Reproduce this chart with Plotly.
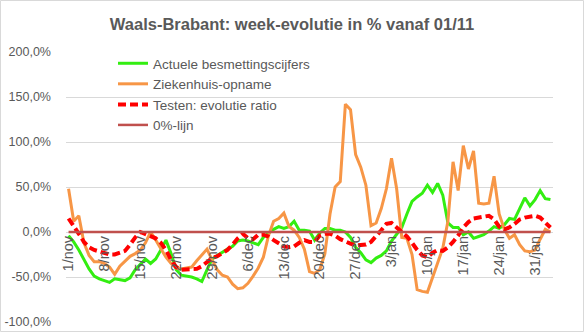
import pandas as pd
import plotly.graph_objects as go

# Daily categories, 1 november 2020 up to 3 februari 2021
dates = pd.date_range("2020-11-01", "2021-02-03", freq="D")

# Week-on-week evolution in %, one value per day
besmettingen = [
    -4, -11, -20, -31, -41, -49, -52, -54, -56, -52,
    -53, -54, -51, -42, -36, -30, -35, -30, -20, -9,
    -24, -42, -48, -49, -50, -52, -55, -42, -30, -26,
    -22, -19, -16, -10, -9, -10, -12, -14, -6, -1,
    3, 6, 4, 6, 12, 2, 2, 1, -9, -1,
    4, 4, 2, 2, 0, -6, -17, -23, -31, -34,
    -29, -26, -21, -10, -2, 5, 20, 34, 39, 43,
    52, 44, 54, 41, 10, 5, 5, -3, 0, -7,
    -5, -3, 1, 6, 4, 8, 15, 14, 26, 38,
    29, 36, 46, 37, 36,
]

ziekenhuis = [
    48, 12, 18, -12, -26, -33, -33, -35, -39, -47,
    -38, -33, -27, -24, -20, -12, 0, -9, -19, -28,
    -35, -40, -41, -40, -39, -32, -25, -19, -31, -42,
    -48, -50, -58, -63, -62, -57, -49, -40, -28, -4,
    12, 15, 21, 6, 2, -6, -19, -44, -46, -42,
    -24, 20, 50, 56, 142, 136, 86, 72, 52, 7,
    10, 26, 48, 82, 48, -6, -7, -25, -64, -66,
    -67, -50, -35, -18, 12, 78, 46, 96, 70, 90,
    32, 31, 32, 62, 20, 3, -7, -3, -14, -21,
    -22, -20, -8, 3, 0,
]

testen = [
    15, 7, -2, -11, -17, -20, -22, -24, -25, -25,
    -23, -21, -14, -6, 0, -2, -4, -7, -12, -20,
    -31, -39, -42, -42, -42, -41, -38, -33, -29, -27,
    -23, -20, -14, -7, -2, -7, -8, -3, -3, -5,
    -9, -12, -16, -17, -16, -12, -9, -11, -11, -4,
    -2, -2, -4, -8, -11, -13, -15, -15, -14, -11,
    -5, 2, 9, 10, 5, 0, -5, -12, -20, -26,
    -28, -23, -20, -21, -17, -11, -4, 5, 11, 15,
    16, 17, 18, 14, 6, 3, 5, 9, 14, 16,
    17, 18, 16, 10, 5,
]

nul_lijn = [
    0, 0, 0, 0, 0, 0, 0, 0, 0, 0, 0, 0, 0, 0, 0, 0, 0, 0, 0,
    0, 0, 0, 0, 0, 0, 0, 0, 0, 0, 0, 0, 0, 0, 0, 0, 0, 0, 0,
    0, 0, 0, 0, 0, 0, 0, 0, 0, 0, 0, 0, 0, 0, 0, 0, 0, 0, 0,
    0, 0, 0, 0, 0, 0, 0, 0, 0, 0, 0, 0, 0, 0, 0, 0, 0, 0, 0,
    0, 0, 0, 0, 0, 0, 0, 0, 0, 0, 0, 0, 0, 0, 0, 0, 0, 0, 0,
]

x_tick_labels = ["1/nov", "8/nov", "15/nov", "22/nov", "29/nov", "6/dec", "13/dec",
                 "20/dec", "27/dec", "3/jan", "10/jan", "17/jan", "24/jan", "31/jan"]
y_tick_values = [-100, -50, 0, 50, 100, 150, 200]
y_tick_labels = ["-100,0%", "-50,0%", "0,0%", "50,0%", "100,0%", "150,0%", "200,0%"]

TEXT = "#595959"
FONT = "Liberation Sans"

W, H = 584, 332
ML, MR, MT, MB = 66, 31, 52, 10
PW, PH = W - ML - MR, H - MT - MB

fig = go.Figure()
fig.add_trace(go.Scatter(x=dates, y=besmettingen, name="Actuele besmettingscijfers",
                         mode="lines", line=dict(color="#33EE11", width=3)))
fig.add_trace(go.Scatter(x=dates, y=ziekenhuis, name="Ziekenhuis-opname",
                         mode="lines", line=dict(color="#F79646", width=3)))
fig.add_trace(go.Scatter(x=dates, y=testen, name="Testen: evolutie ratio",
                         mode="lines", line=dict(color="#FF0000", width=4, dash="8px,4px")))
fig.add_trace(go.Scatter(x=dates, y=nul_lijn, name="0%-lijn",
                         mode="lines", line=dict(color="#C0504D", width=2.5)))

half_day = pd.Timedelta(hours=12)
y_min, y_max = -100, 200

fig.update_layout(
    template="none",
    width=W, height=H,
    margin=dict(l=ML, r=MR, t=MT, b=MB, autoexpand=False),
    paper_bgcolor="white", plot_bgcolor="white",
    font=dict(family=FONT, size=13, color=TEXT),
    title=dict(text="<b>Waals-Brabant: week-evolutie in % vanaf 01/11</b>",
               x=0.5, xanchor="center", xref="container",
               y=1 - 24.5 / H, yanchor="middle", yref="container",
               font=dict(family=FONT, size=16.5, color=TEXT)),
    xaxis=dict(type="date", automargin=False,
               range=[dates[0] - half_day, dates[-1] + half_day],
               tickvals=list(dates[::7]), ticktext=x_tick_labels,
               tickangle=-90, tickfont=dict(size=14.5, color=TEXT),
               showgrid=False, zeroline=False, showline=False, ticks="",
               anchor="free", position=(0 - y_min) / (y_max - y_min)),
    yaxis=dict(range=[y_min, y_max], automargin=False,
               tickvals=y_tick_values, ticktext=y_tick_labels,
               tickfont=dict(size=12.5, color=TEXT),
               showgrid=True, gridcolor="#D9D9D9", gridwidth=1,
               zeroline=False, showline=False, ticks="",
               ticklabelstandoff=14),
    legend=dict(x=(113 - ML) / PW, y=(H - MB - 48) / PH,
                xanchor="left", yanchor="top",
                bgcolor="rgba(0,0,0,0)", borderwidth=0,
                font=dict(family=FONT, size=13.5, color=TEXT)),
    showlegend=True,
)

# light frame around the whole chart area
fig.add_shape(type="rect", xref="paper", yref="paper",
              x0=(0.5 - ML) / PW, x1=(W - 0.5 - ML) / PW,
              y0=(H - MB - (H - 0.5)) / PH, y1=(H - MB - 0.5) / PH,
              line=dict(color="#D9D9D9", width=1), fillcolor="rgba(0,0,0,0)",
              layer="above")

fig.write_html("out.html")
